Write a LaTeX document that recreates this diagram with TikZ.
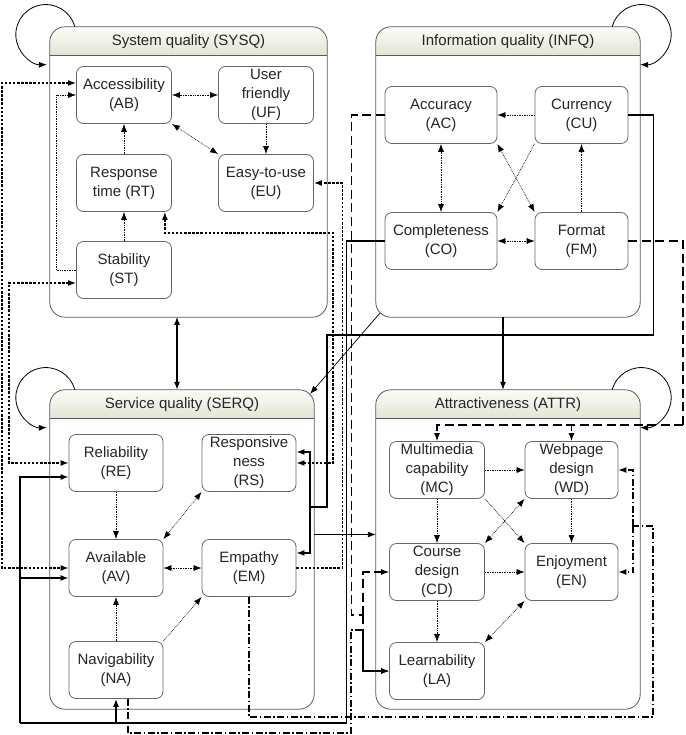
\documentclass[tikz,border=0pt]{standalone}
\usepackage{fontspec}
\setmainfont{Liberation Sans}
\usetikzlibrary{arrows.meta}
\definecolor{hdrtop}{RGB}{252,252,248}
\definecolor{hdrbot}{RGB}{226,228,212}

\begin{document}
\begin{tikzpicture}[
  x=1pt, y=1pt,
  font=\fontsize{15}{19}\selectfont,
  >={Latex[length=8pt,width=6pt]},
  grp/.style={minimum width=264pt,minimum height=319pt,inner sep=0pt},
  grpline/.style={draw=black!65,line width=0.8pt},
  title/.style={text=black!85},
  box/.style={draw=black!60,line width=0.8pt,rounded corners=7pt,fill=white,align=center,minimum width=95pt,minimum height=57pt,inner sep=1pt,text=black!85},
  rel/.style={densely dotted,line width=0.7pt},
  fb/.style={dash pattern=on 2.5pt off 1.6pt,line width=1.3pt},
  lnk/.style={line width=1.4pt},
  dsh/.style={dash pattern=on 9pt off 4.5pt,line width=1.2pt},
  ddot/.style={dash pattern=on 7pt off 2.5pt on 1.5pt off 2.5pt,line width=1.1pt},
  loopln/.style={line width=0.8pt}
]
\useasboundingbox (0,0) rectangle (685,-735);

% groups
\node[grp,minimum width=277pt,minimum height=290pt] (SYSQ) at (188.5,-172) {};
\node[grp,minimum height=290pt] (INFQ) at (508,-172) {};
\node[grp] (SERQ) at (182,-549.5) {};
\node[grp] (ATTR) at (508,-549.5) {};
\foreach \g/\t in {SYSQ/{System quality (SYSQ)},INFQ/{Information quality (INFQ)},
                   SERQ/{Service quality (SERQ)},ATTR/{Attractiveness (ATTR)}}{
  \begin{scope}
    \clip[rounded corners=15pt] (\g.south west) rectangle (\g.north east);
    \shade[top color=hdrtop,bottom color=hdrbot] (\g.north west) rectangle ([yshift=-29pt]\g.north east);
  \end{scope}
  \draw[grpline] ([yshift=-29pt]\g.north west) -- ([yshift=-29pt]\g.north east);
  \draw[grpline,rounded corners=15pt] (\g.south west) rectangle (\g.north east);
  \node[title] (t\g) at ([yshift=-14.5pt]\g.north) {\t};
}

% system quality
\node[box] (AB) at (124,-95) {Accessibility\\(AB)};
\node[box] (UF) at (266,-95) {User\\friendly\\(UF)};
\node[box] (RT) at (124,-183) {Response\\time (RT)};
\node[box] (EU) at (266,-183) {Easy-to-use\\(EU)};
\node[box] (ST) at (124,-270) {Stability\\(ST)};

% information quality
\node[box,minimum width=112pt] (AC) at (441,-115) {Accuracy\\(AC)};
\node[box,minimum width=93pt] (CU) at (581.5,-115) {Currency\\(CU)};
\node[box,minimum width=112pt] (CO) at (441,-241) {Completeness\\(CO)};
\node[box,minimum width=93pt] (FM) at (581.5,-241) {Format\\(FM)};

% service quality
\node[box,minimum width=94pt] (RE) at (116,-463) {Reliability\\(RE)};
\node[box,minimum width=94pt] (RS) at (249,-463) {Responsive\\ness\\(RS)};
\node[box,minimum width=94pt] (AV) at (116,-568) {Available\\(AV)};
\node[box,minimum width=94pt] (EM) at (249,-568) {Empathy\\(EM)};
\node[box,minimum width=94pt] (NA) at (116,-670) {Navigability\\(NA)};

% attractiveness
\node[box] (MC) at (437,-470) {Multimedia\\capability\\(MC)};
\node[box,minimum width=93pt] (WD) at (571.5,-470) {Webpage\\design\\(WD)};
\node[box] (CD) at (437,-572) {Course\\design\\(CD)};
\node[box,minimum width=93pt] (EN) at (571.5,-572) {Enjoyment\\(EN)};
\node[box] (LA) at (437,-671) {Learnability\\(LA)};

% inside the groups
\draw[rel,<->] (AB) -- (UF);
\draw[rel,<->] (AB.south east) -- (EU.north west);
\draw[rel,->] (UF) -- (EU);
\draw[rel,->] (RT) -- (AB);
\draw[rel,->] (ST) -- (RT);
\draw[rel,->] (ST.west) -- ++(-20,0) |- (AB.west);

\draw[rel,->] (CU) -- (AC);
\draw[rel,<->] (AC) -- (CO);
\draw[rel,<->] (AC.south east) -- (FM.north west);
\draw[rel,->] (CU.south west) -- (CO.north east);
\draw[rel,<->] (CO) -- (FM);
\draw[rel,->] (FM) -- (CU);

\draw[rel,->] (RE) -- (AV);
\draw[rel,<->] (AV.north east) -- (RS.south west);
\draw[rel,<->] (AV) -- (EM);
\draw[rel,->] (NA) -- (AV);
\draw[rel,->] (NA.north east) -- (EM.south west);

\draw[rel,->] (MC) -- (WD);
\draw[rel,->] (MC) -- (CD);
\draw[rel,->] (MC.south east) -- (EN.north west);
\draw[rel,<->] (WD.south west) -- (CD.north east);
\draw[rel,->] (WD) -- (EN);
\draw[rel,->] (CD) -- (EN);
\draw[rel,->] (CD) -- (LA);
\draw[rel,<->] (EN.south west) -- (LA.north east);

% self loops
\draw[loopln,->] ([xshift=25pt]SYSQ.north west) arc[start angle=15,end angle=272,radius=30];
\draw[loopln,->] ([xshift=-28pt]INFQ.north east) arc[start angle=165,end angle=-92,radius=30];
\draw[loopln,->] ([xshift=25pt]SERQ.north west) arc[start angle=15,end angle=272,radius=30];
\draw[loopln,->] ([xshift=-28pt]ATTR.north east) arc[start angle=165,end angle=-92,radius=30];

% between the groups
\draw[lnk,<->] ([xshift=-5pt]SERQ.north) -- ++(0,73);
\draw[line width=1.1pt,->] ([xshift=-5pt]INFQ.south) -- ([xshift=-5pt]ATTR.north);
\draw[line width=0.7pt,->] ([shift={(4,4)}]INFQ.south west) -- ([shift={(-4,-4)}]SERQ.north east);
\draw[line width=0.9pt,->] ([yshift=15pt]SERQ.east) -- ([yshift=15pt]ATTR.west);

\draw[fb,<->] ([yshift=12pt]AB.west) -- ++(-74,0) |- (AV.west);
\draw[fb,<->] ([yshift=-13pt]ST.west) -- ++(-67,0) |- (RE.west);
\draw[fb,<->] ([xshift=-7pt]RT.south east) -- ++(0,-21) -- ++(168,0) |- (RS.east);
\draw[fb,->] (EM.east) -- ++(46,0) |- (EU.east);

\coordinate (cuj) at (310,-507);
\draw[lnk] (CU.east) -- ++(25,0) |- (327,-335) |- (cuj);
\draw[lnk,->] (cuj) |- ([yshift=11pt]RS.east);
\draw[lnk,->] (cuj) |- ([yshift=15pt]EM.east);

\coordinate (coj) at (20,-723);
\draw[lnk] (CO.west) -- ++(-38,0) |- (coj);
\draw[lnk,->] (coj) |- ([yshift=-14pt]RE.west);
\draw[lnk,->] (coj) |- ([yshift=-10pt]AV.west);
\draw[lnk,->] (coj -| NA.south) -- (NA.south);

\coordinate (acj) at (363,-615);
\draw[dsh] (AC.west) -- ++(-33,0) |- (acj);
\draw[dsh,->] (acj) |- (CD.west);
\draw[dsh,->] (acj) |- (LA.west);

\coordinate (fmj) at (683,-425);
\draw[dsh] (FM.east) -| (fmj);
\draw[dsh,->] (fmj) -| (MC.north);
\draw[dsh,->] (fmj) -| (WD.north);

\coordinate (emj) at (633,-526);
\draw[ddot] (EM.south) |- (653,-717) |- (emj);
\draw[ddot,->] (emj) |- (WD.east);
\draw[ddot,->] (emj) |- (EN.east);
\draw[ddot,->] ([xshift=12pt]NA.south) |- (351,-733) |- (363,-630) |- (LA.west);
\end{tikzpicture}
\end{document}
